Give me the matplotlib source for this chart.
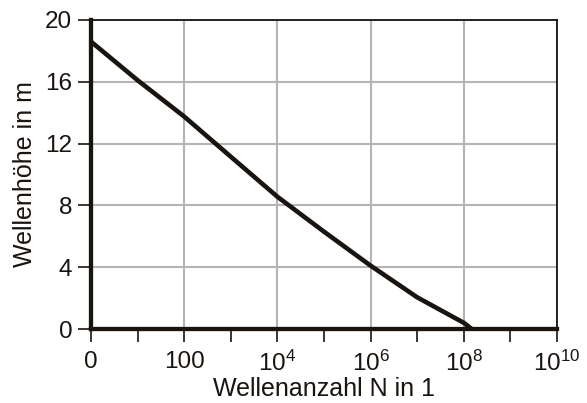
import numpy as np
import matplotlib
matplotlib.use("Agg")
import matplotlib.pyplot as plt
from matplotlib.ticker import FixedLocator

plt.rcParams['font.family'] = ['Liberation Sans', 'DejaVu Sans']
plt.rcParams['mathtext.fontset'] = 'custom'
plt.rcParams['mathtext.rm'] = 'Liberation Sans'
plt.rcParams['mathtext.it'] = 'Liberation Sans'

# data: wave count N (as log10) and wave height in m
log_n = [0, 1, 2, 3, 4, 5, 6, 7, 8, 8.17]
height = [18.6, 16.1, 13.75, 11.15, 8.56, 6.3, 4.1, 2.05, 0.4, 0.0]
x_major = [0, 2, 4, 6, 8, 10]
x_labels = ["0", "100", r"$10^4$", r"$10^6$", r"$10^8$", r"$10^{10}$"]
x_minor = [1, 3, 5, 7, 9]
y_ticks = [0, 4, 8, 12, 16, 20]

fig = plt.figure(figsize=(5.87, 4.03), dpi=100)
ax = fig.add_axes([91/587, 74/403, 466/587, 309/403])

ax.plot(log_n, height, color='#1a1410', lw=3.3, solid_capstyle='butt',
        solid_joinstyle='round', zorder=3, clip_on=False)

ax.set_xlim(0, 10)
ax.set_ylim(0, 20)
ax.set_xticks(x_major)
ax.set_xticklabels(x_labels)
ax.xaxis.set_minor_locator(FixedLocator(x_minor))
ax.set_yticks(y_ticks)

ax.grid(True, which='major', color='#b4b4b4', lw=1.5)
ax.set_axisbelow(True)

for side in ['top', 'right']:
    ax.spines[side].set_linewidth(1.3)
    ax.spines[side].set_color('#1a1410')
for side in ['left', 'bottom']:
    ax.spines[side].set_linewidth(3.1)
    ax.spines[side].set_color('#1a1410')

ax.tick_params(axis='x', which='both', direction='out', length=9.5, width=1.2,
               color='#1a1410', labelsize=17.5, pad=6, labelcolor='#1a1410')
ax.tick_params(axis='y', which='both', direction='out', length=9.5, width=1.2,
               color='#1a1410', labelsize=17.5, pad=4, labelcolor='#1a1410')

ax.set_xlabel('Wellenanzahl N in 1', fontsize=18, color='#1a1410', labelpad=1)
ax.set_ylabel('Wellenhöhe in m', fontsize=18, color='#1a1410', labelpad=6)

fig.savefig('out.png', dpi=100)
